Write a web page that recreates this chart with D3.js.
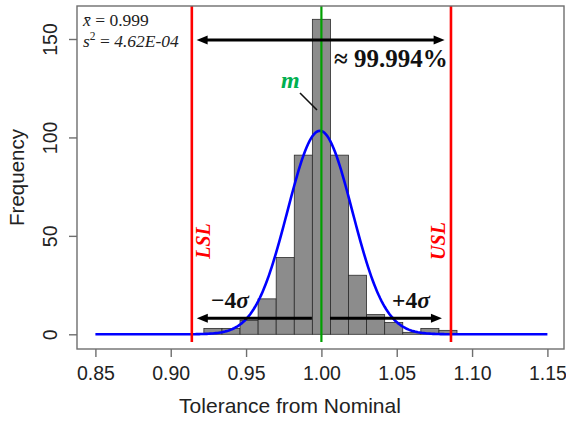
<!DOCTYPE html>
<html>
<head>
<meta charset="utf-8">
<script src="https://cdn.jsdelivr.net/npm/d3@7"></script>
<style>
  html, body { margin: 0; padding: 0; background: #fff; }
  svg { display: block; }
</style>
</head>
<body>
<svg id="chart" width="566" height="421"></svg>
<script>
// Histogram of measured tolerance with fitted normal curve and spec limits
const binEdges = [0.922, 0.934, 0.946, 0.958, 0.970, 0.982, 0.994, 1.006, 1.018, 1.030, 1.042, 1.054, 1.066, 1.078, 1.090];
const binCounts = [3, 3, 7, 18, 39, 91, 160, 91, 30, 10, 6, 1, 3, 2];
const xTicks = [0.85, 0.90, 0.95, 1.00, 1.05, 1.10, 1.15];
const yTicks = [0, 50, 100, 150];
const sampleMean = 0.999;
const sampleVar = 4.62e-4;
const nominal = 1.0;
const specLimits = [0.914, 1.086];      // LSL, USL (nominal ± 4σ)
const curveRange = [0.85, 1.15];
const coverageLabel = "≈ 99.994%";

const svg = d3.select("#chart");
const x = d3.scaleLinear().domain([0.85, 1.15]).range([95.4, 547.4]);
const y = d3.scaleLinear().domain([0, 150]).range([334.3, 39]);
const box = { left: 77, top: 6, right: 564, bottom: 349 };

const sd = Math.sqrt(sampleVar);
const binWidth = binEdges[1] - binEdges[0];
const total = d3.sum(binCounts);

// Histogram bars
const bins = binCounts.map((c, i) => ({ x0: binEdges[i], x1: binEdges[i + 1], count: c }));
svg.append("g").selectAll("rect").data(bins).join("rect")
  .attr("x", d => x(d.x0))
  .attr("y", d => y(d.count))
  .attr("width", d => x(d.x1) - x(d.x0))
  .attr("height", d => y(0) - y(d.count))
  .attr("fill", "#8c8c8c")
  .attr("stroke", "#2b2b2b")
  .attr("stroke-width", 0.8);

// Fitted normal curve scaled to counts
const curvePts = d3.range(0, 301).map(i => {
  const v = curveRange[0] + (curveRange[1] - curveRange[0]) * i / 300;
  const z = (v - sampleMean) / sd;
  return [v, total * binWidth * Math.exp(-0.5 * z * z) / (sd * Math.sqrt(2 * Math.PI))];
});
svg.append("path")
  .datum(curvePts)
  .attr("d", d3.line().x(d => x(d[0])).y(d => y(d[1])))
  .attr("fill", "none")
  .attr("stroke", "#0000ff")
  .attr("stroke-width", 2.6);

// Spec limit lines
svg.append("g").selectAll("line").data(specLimits).join("line")
  .attr("x1", d => x(d)).attr("x2", d => x(d))
  .attr("y1", box.top).attr("y2", 342)
  .attr("stroke", "#ff0000")
  .attr("stroke-width", 2.6);

// Nominal line
svg.append("line")
  .attr("x1", x(nominal)).attr("x2", x(nominal))
  .attr("y1", box.top).attr("y2", 342)
  .attr("stroke", "#00a000")
  .attr("stroke-width", 2.2);

// Arrows
function arrow(x0, x1, yv, heads) {
  const g = svg.append("g");
  const px0 = x(x0), px1 = x(x1), py = y(yv);
  const hl = 11, hw = 4.5;
  const dir = Math.sign(px1 - px0);
  g.append("line")
    .attr("x1", px0 + (heads.start ? hl - 2 : 0) * dir)
    .attr("x2", px1 - (heads.end ? hl - 2 : 0) * dir)
    .attr("y1", py).attr("y2", py)
    .attr("stroke", "#000").attr("stroke-width", 3);
  const head = (tip, d) => g.append("path")
    .attr("d", `M${tip},${py} L${tip - d * hl},${py - hw} L${tip - d * hl},${py + hw} Z`)
    .attr("fill", "#000");
  if (heads.end) head(px1, dir);
  if (heads.start) head(px0, -dir);
}
arrow(0.9172, 1.0818, 149.5, { start: true, end: true });
arrow(0.9937, 0.9173, 8.1, { start: false, end: true });
arrow(1.0057, 1.0800, 8.1, { start: false, end: true });

// Plot frame
svg.append("rect")
  .attr("x", box.left).attr("y", box.top)
  .attr("width", box.right - box.left).attr("height", box.bottom - box.top)
  .attr("fill", "none").attr("stroke", "#6e6e6e").attr("stroke-width", 1.4);

// Axes
const axisFont = "'Liberation Sans', Arial, sans-serif";
const xAxis = svg.append("g")
  .attr("transform", `translate(0,${box.bottom})`)
  .call(d3.axisBottom(x).tickValues(xTicks).tickFormat(d3.format(".2f")).tickSize(8));
xAxis.select(".domain").remove();
xAxis.selectAll(".tick line").attr("stroke", "#6e6e6e").attr("stroke-width", 1.4);
xAxis.selectAll(".tick text")
  .attr("y", 31).attr("dy", null)
  .attr("font-family", axisFont).attr("font-size", 19.5).attr("fill", "#222");

const yAxis = svg.append("g")
  .attr("transform", `translate(${box.left},0)`)
  .call(d3.axisLeft(y).tickValues(yTicks).tickSize(8));
yAxis.select(".domain").remove();
yAxis.selectAll(".tick line").attr("stroke", "#6e6e6e").attr("stroke-width", 1.4);
yAxis.selectAll(".tick text")
  .attr("x", 0).attr("dy", null)
  .attr("transform", "translate(-20,0) rotate(-90)")
  .attr("text-anchor", "middle")
  .attr("font-family", axisFont).attr("font-size", 19.5).attr("fill", "#222");

svg.append("text")
  .attr("x", 290).attr("y", 413)
  .attr("text-anchor", "middle")
  .attr("font-family", axisFont).attr("font-size", 21).attr("fill", "#222")
  .text("Tolerance from Nominal");
svg.append("text")
  .attr("transform", `translate(24,${(box.top + box.bottom) / 2}) rotate(-90)`)
  .attr("text-anchor", "middle")
  .attr("font-family", axisFont).attr("font-size", 20.5).attr("fill", "#222")
  .text("Frequency");

// Annotations
const mathFont = "'Liberation Serif', 'Times New Roman', serif";
const stat1 = svg.append("text").attr("x", 83).attr("y", 26)
  .attr("font-family", mathFont).attr("font-size", 17.5).attr("fill", "#222");
stat1.append("tspan").attr("font-style", "italic").text("x̄");
stat1.append("tspan").text(" = " + d3.format(".3f")(sampleMean));

const stat2 = svg.append("text").attr("x", 83).attr("y", 47)
  .attr("font-family", mathFont).attr("font-size", 17.5).attr("fill", "#222");
stat2.append("tspan").attr("font-style", "italic").text("s");
stat2.append("tspan").attr("font-size", 11.5).attr("dy", -7).text("2");
stat2.append("tspan").attr("dy", 7).text(" = ");
stat2.append("tspan").attr("font-style", "italic")
  .text(d3.format(".2e")(sampleVar).replace("e-", "E-0"));

svg.append("text")
  .attr("x", 334).attr("y", 67)
  .attr("font-family", mathFont).attr("font-size", 25).attr("font-weight", "bold").attr("fill", "#111")
  .text(coverageLabel);

svg.append("text")
  .attr("x", 281).attr("y", 88)
  .attr("font-family", mathFont).attr("font-size", 24).attr("font-weight", "bold").attr("font-style", "italic")
  .attr("fill", "#00b050")
  .text("m");
svg.append("line")
  .attr("x1", 300).attr("y1", 93).attr("x2", 317).attr("y2", 110)
  .attr("stroke", "#111").attr("stroke-width", 1.6);

// Spec labels
[["LSL", specLimits[0], 210], ["USL", specLimits[1], 445]].forEach(([t, v, bx]) => {
  svg.append("text")
    .attr("transform", `translate(${bx},241) rotate(-90)`)
    .attr("text-anchor", "middle")
    .attr("font-family", mathFont).attr("font-size", 20).attr("font-weight", "bold").attr("font-style", "italic")
    .attr("fill", "#ff0000")
    .text(t);
});

// Sigma labels
[["−4", 211], ["+4", 392]].forEach(([t, px]) => {
  const tx = svg.append("text").attr("x", px).attr("y", 308)
    .attr("font-family", mathFont).attr("font-size", 23.5).attr("font-weight", "bold").attr("fill", "#111");
  tx.append("tspan").text(t);
  tx.append("tspan").attr("font-style", "italic").text("σ");
});
</script>
</body>
</html>
